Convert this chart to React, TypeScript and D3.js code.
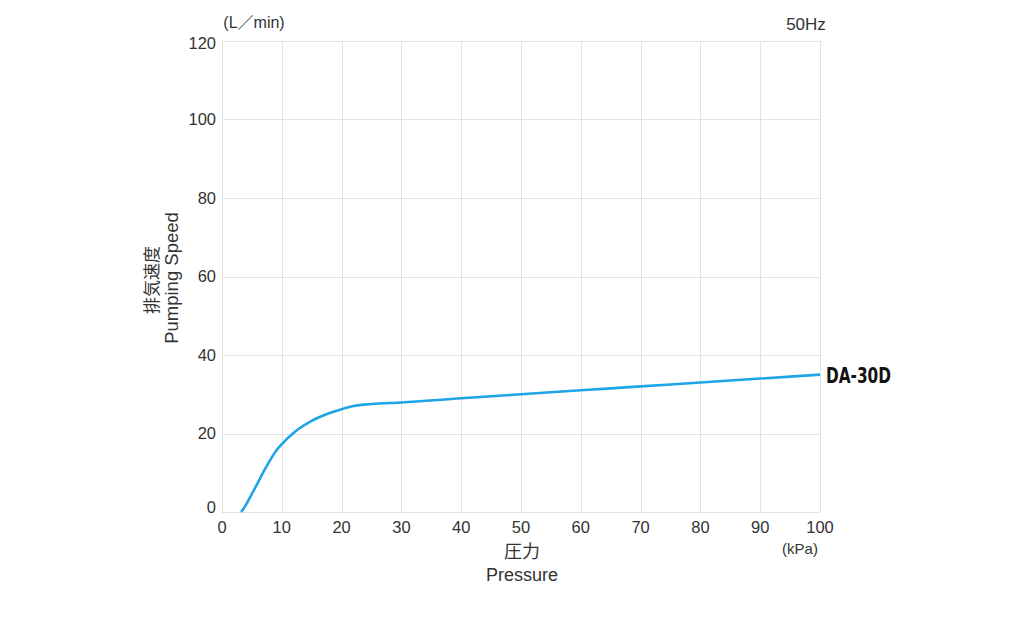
import React, { useEffect, useRef } from 'react';
import * as d3 from 'd3';

// pump curve (kPa -> L/min)
const pressure = [3.2, 4, 5, 6, 7, 8, 9, 10, 12, 15, 18, 20, 22, 25, 30, 40, 50, 60, 70, 80, 90, 100];
const speed = [0, 1.8, 4.6, 7.5, 10.4, 13.1, 15.5, 17.3, 20.2, 23.2, 25.2, 26.2, 27, 27.5, 27.9, 29, 30, 31, 32, 33, 34, 35];
const xTicks = [0, 10, 20, 30, 40, 50, 60, 70, 80, 90, 100];
const yTicks = [0, 20, 40, 60, 80, 100, 120];
const seriesName = 'DA-30D';

const W = 1030;
const H = 629;

export default function App() {
  const svgRef = useRef<SVGSVGElement | null>(null);

  useEffect(() => {
    if (!svgRef.current) return;
    const svg = d3.select(svgRef.current);
    svg.selectAll('*').remove();

    const font = '"Liberation Sans", Arial, sans-serif';
    const x = d3.scaleLinear().domain([0, 100]).range([222, 820]);
    const y = d3.scaleLinear().domain([0, 120]).range([512, 41]);

    // grid
    const grid = svg.append('g').attr('stroke', '#e2e2e2').attr('stroke-width', 1);
    grid.selectAll('line.v')
      .data(xTicks)
      .join('line')
      .attr('x1', d => Math.round(x(d)) + 0.5)
      .attr('x2', d => Math.round(x(d)) + 0.5)
      .attr('y1', y(120))
      .attr('y2', y(0));
    grid.selectAll('line.h')
      .data(yTicks)
      .join('line')
      .attr('x1', x(0))
      .attr('x2', x(100))
      .attr('y1', d => Math.round(y(d)) + 0.5)
      .attr('y2', d => Math.round(y(d)) + 0.5);

    // tick labels (end labels kept inside the plot's vertical span)
    svg.append('g')
      .selectAll('text')
      .data(yTicks)
      .join('text')
      .attr('x', 216)
      .attr('y', d => Math.max(43, Math.min(507, y(d))))
      .attr('dy', '0.36em')
      .attr('text-anchor', 'end')
      .attr('font-family', font)
      .attr('font-size', 16.5)
      .attr('fill', '#333')
      .text(d => d);

    svg.append('g')
      .selectAll('text')
      .data(xTicks)
      .join('text')
      .attr('x', d => x(d))
      .attr('y', 533)
      .attr('text-anchor', 'middle')
      .attr('font-family', font)
      .attr('font-size', 16.5)
      .attr('fill', '#333')
      .text(d => d);

    const label = (tx: number, ty: number, s: string, size = 15, anchor = 'middle') =>
      svg.append('text')
        .attr('x', tx)
        .attr('y', ty)
        .attr('text-anchor', anchor)
        .attr('font-family', '"Liberation Sans", Arial, "Noto Sans CJK JP", sans-serif')
        .attr('font-size', size)
        .attr('fill', '#333')
        .text(s);

    label(800, 554, '(kPa)', 15);
    label(522, 558, '圧力', 18);
    label(522, 581, 'Pressure', 18);
    label(254, 28, '(L／min)', 16);
    label(806, 30, '50Hz', 17);

    // rotated y title
    svg.append('text')
      .attr('transform', 'translate(158,280) rotate(-90)')
      .attr('text-anchor', 'middle')
      .attr('font-family', '"Noto Sans CJK JP", sans-serif')
      .attr('font-size', 17).attr('fill', '#333')
      .text('排気速度');
    svg.append('text')
      .attr('transform', 'translate(178,278) rotate(-90)')
      .attr('text-anchor', 'middle')
      .attr('font-family', '"Liberation Sans", Arial, sans-serif')
      .attr('font-size', 18.5).attr('fill', '#333')
      .text('Pumping Speed');

    // curve
    const pts = pressure.map((p, i) => [p, speed[i]] as [number, number]);
    const line = d3.line<[number, number]>()
      .x(d => x(d[0]))
      .y(d => y(d[1]))
      .curve(d3.curveMonotoneX);
    svg.append('path')
      .datum(pts)
      .attr('fill', 'none')
      .attr('stroke', '#1ea5e6')
      .attr('stroke-width', 2.6)
      .attr('d', line);

    const last = pts[pts.length - 1];
    svg.append('text')
      .attr('x', x(last[0]) + 6)
      .attr('y', y(last[1]) + 8)
      .attr('font-family', '"DejaVu Sans Condensed", "DejaVu Sans", Arial, sans-serif')
      .attr('font-weight', 'bold')
      .attr('font-size', 21)
      .attr('textLength', 65)
      .attr('lengthAdjust', 'spacingAndGlyphs')
      .attr('fill', '#111')
      .text(seriesName);
  }, []);

  return (
    <svg ref={svgRef} width={W} height={H} style={{ display: 'block', position: 'absolute', left: 0, top: 0 }} />
  );
}
